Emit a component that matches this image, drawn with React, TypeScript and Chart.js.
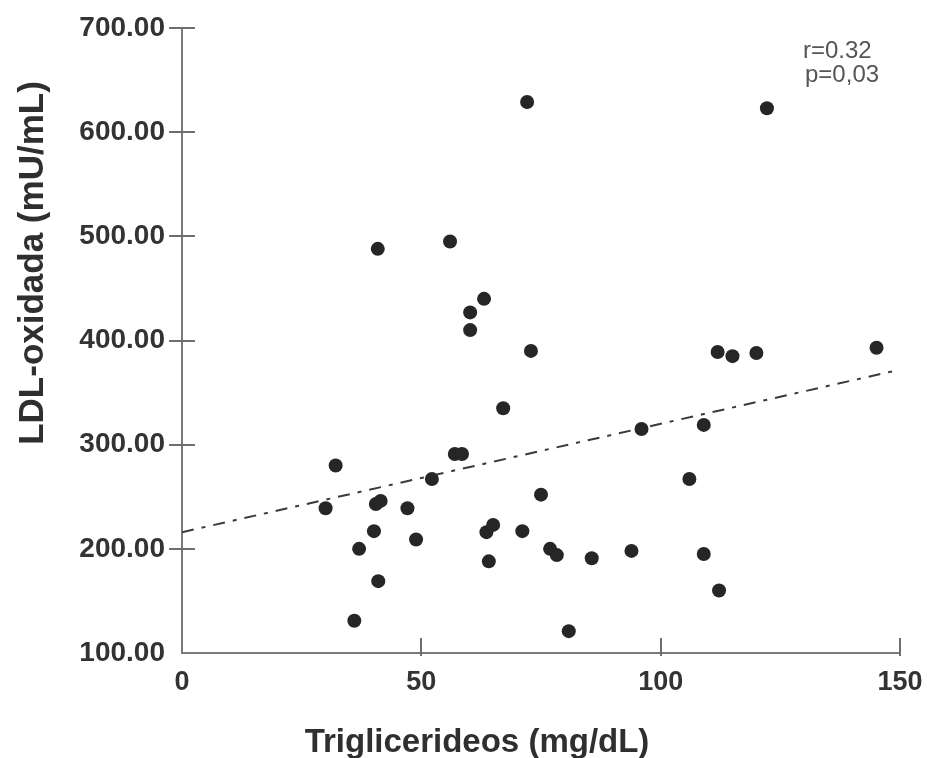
import { useEffect, useRef } from "react";
import { Chart, registerables } from "chart.js";

Chart.register(...registerables);

// Triglicerideos (mg/dL)
const trigliceridos = [
  72.1, 122.2, 40.9, 56, 63.1, 60.2, 60.2, 72.9, 67.1, 57, 58.5, 52.2, 32.1, 30,
  40.5, 41.5, 47.1, 40.1, 48.9, 37, 41, 36, 75, 63.6, 65, 71.1, 76.9, 78.3, 64.1,
  80.8, 85.6, 93.9, 109, 112.2, 96, 109, 106, 111.9, 115, 120, 145.1,
];
// LDL-oxidada (mU/mL)
const ldlOxidada = [
  629, 623, 488, 495, 440, 427, 410, 390, 335, 291, 291, 267, 280, 239, 243, 246,
  239, 217, 209, 200, 169, 131, 252, 216, 223, 217, 200, 194, 188, 121, 191, 198,
  195, 160, 315, 319, 267, 389, 385, 388, 393,
];
// regression line end points
const regressionX = [0, 149];
const regressionY = [216, 371];

const xTickLabels = ["0", "50", "100", "150"];
const yTickLabels = ["100.00", "200.00", "300.00", "400.00", "500.00", "600.00", "700.00"];
const xTitle = "Triglicerideos (mg/dL)";
const yTitle = "LDL-oxidada (mU/mL)";
const statsLines = ["r=0.32", "p=0,03"];

const FONT = "'Liberation Sans', Arial, Helvetica, sans-serif";

const decorPlugin = {
  id: "decor",
  afterDraw(chart: any) {
    const { ctx, scales, chartArea } = chart;
    const xs = scales.x;
    const ys = scales.y;
    ctx.save();
    // tick marks
    ctx.strokeStyle = "#6e6e6e";
    ctx.lineWidth = 2;
    ys.ticks.forEach((t: any) => {
      if (t.value === ys.min) return;
      const py = Math.round(ys.getPixelForValue(t.value));
      ctx.beginPath();
      ctx.moveTo(chartArea.left - 13, py);
      ctx.lineTo(chartArea.left + 13, py);
      ctx.stroke();
    });
    xs.ticks.forEach((t: any) => {
      if (t.value === xs.min) return;
      const px = Math.round(xs.getPixelForValue(t.value));
      ctx.beginPath();
      ctx.moveTo(px, chartArea.bottom - 15);
      ctx.lineTo(px, chartArea.bottom + 3);
      ctx.stroke();
    });
    // axis titles
    ctx.fillStyle = "#2f2f2f";
    ctx.font = `bold 33px ${FONT}`;
    ctx.textAlign = "center";
    ctx.textBaseline = "alphabetic";
    ctx.fillText(xTitle, 477, 752);
    ctx.save();
    ctx.translate(43, 263);
    ctx.rotate(-Math.PI / 2);
    ctx.font = `bold 35px ${FONT}`;
    ctx.fillText(yTitle, 0, 0);
    ctx.restore();
    // stats
    ctx.fillStyle = "#555555";
    ctx.font = `24px ${FONT}`;
    ctx.textAlign = "left";
    ctx.fillText(statsLines[0], 803, 58);
    ctx.fillText(statsLines[1], 805, 82);
    ctx.restore();
  },
};

export default function App() {
  const ref = useRef<HTMLCanvasElement | null>(null);
  useEffect(() => {
    document.body.style.margin = "0";
    const canvas = ref.current;
    if (!canvas) return;
    const points = trigliceridos.map((x, i) => ({ x, y: ldlOxidada[i] }));
    const line = regressionX.map((x, i) => ({ x, y: regressionY[i] }));
    const chart = new Chart(canvas, {
      type: "scatter",
      data: {
        datasets: [
          {
            data: points,
            pointRadius: 7,
            pointHoverRadius: 7,
            pointBackgroundColor: "#262626",
            pointBorderWidth: 0,
            pointBorderColor: "#262626",
          },
          {
            type: "line",
            data: line,
            borderColor: "#3a3a3a",
            borderWidth: 2,
            borderDash: [12, 8, 4, 8],
            pointRadius: 0,
            fill: false,
          } as any,
        ],
      },
      options: {
        responsive: false,
        animation: false,
        plugins: {
          legend: { display: false },
          tooltip: { enabled: false },
        },
        layout: { padding: { left: 0, right: 27, top: 28, bottom: 0 } },
        scales: {
          x: {
            type: "linear",
            min: 0,
            max: 150,
            grid: { display: false, drawTicks: false, tickLength: 0 },
            border: { display: true, color: "#7a7a7a", width: 2 },
            ticks: {
              stepSize: 50,
              padding: 13,
              color: "#333333",
              font: { family: FONT, size: 27, weight: "bold" },
              maxRotation: 0,
              callback: (_v: any, i: number) => xTickLabels[i],
            },
            afterFit: (s: any) => {
              s.height = 105;
              s.paddingLeft = 0;
              s.paddingRight = 0;
              s.paddingTop = 0;
              s.paddingBottom = 0;
            },
          },
          y: {
            type: "linear",
            min: 100,
            max: 700,
            grid: { display: false, drawTicks: false, tickLength: 0 },
            border: { display: true, color: "#7a7a7a", width: 2 },
            ticks: {
              stepSize: 100,
              padding: 17,
              color: "#333333",
              font: { family: FONT, size: 28, weight: "bold" },
              callback: (_v: any, i: number) => yTickLabels[i],
            },
            afterFit: (s: any) => {
              s.width = 182;
              s.paddingLeft = 0;
              s.paddingRight = 0;
              s.paddingTop = 0;
              s.paddingBottom = 0;
            },
          },
        },
      },
      plugins: [decorPlugin],
    });
    return () => chart.destroy();
  }, []);
  return (
    <canvas
      ref={ref}
      width={927}
      height={758}
      style={{ display: "block", width: 927, height: 758 }}
    />
  );
}
